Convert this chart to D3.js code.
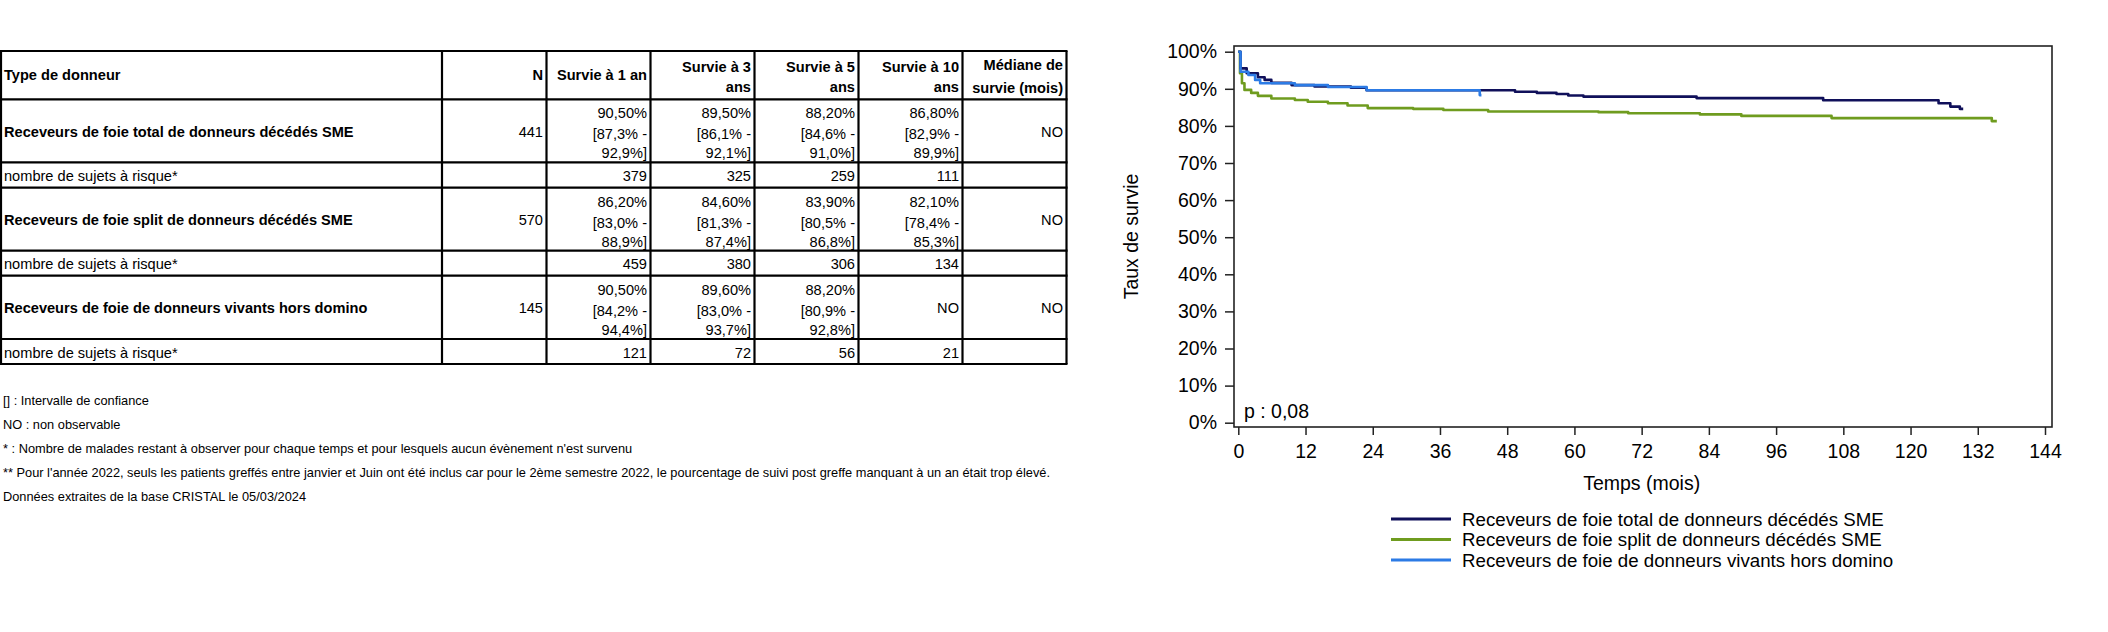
<!DOCTYPE html>
<html><head><meta charset="utf-8">
<script src="https://cdn.jsdelivr.net/npm/d3@7"></script>
<style>
body{margin:0;background:#fff}
svg{display:block}
text{font-family:"Liberation Sans",Arial,Helvetica,sans-serif;fill:#000}
</style>
</head><body>
<svg id="c" width="2108" height="632"></svg>
<script>
// ---------- DATA ----------
const groups = [
  "Receveurs de foie total de donneurs décédés SME",
  "Receveurs de foie split de donneurs décédés SME",
  "Receveurs de foie de donneurs vivants hors domino"
];
const nPatients = [441, 570, 145];
const headerFirst = "Type de donneur";
const headerN = "N";
const survHeaders = [["Survie à 1 an"], ["Survie à 3", "ans"], ["Survie à 5", "ans"], ["Survie à 10", "ans"]];
const medianHeader = ["Médiane de", "survie (mois)"];
const survEst = [["90,50%", "89,50%", "88,20%", "86,80%"], ["86,20%", "84,60%", "83,90%", "82,10%"], ["90,50%", "89,60%", "88,20%", null]];
const ciLow  = [["87,3%", "86,1%", "84,6%", "82,9%"], ["83,0%", "81,3%", "80,5%", "78,4%"], ["84,2%", "83,0%", "80,9%", null]];
const ciHigh = [["92,9%", "92,1%", "91,0%", "89,9%"], ["88,9%", "87,4%", "86,8%", "85,3%"], ["94,4%", "93,7%", "92,8%", null]];
const atRiskLabel = "nombre de sujets à risque*";
const atRisk = [[379, 325, 259, 111], [459, 380, 306, 134], [121, 72, 56, 21]];
const medianSurv = ["NO", "NO", "NO"];
const notObservable = "NO";
const footnotes = [
  "[] : Intervalle de confiance",
  "NO : non observable",
  "* : Nombre de malades restant à observer pour chaque temps et pour lesquels aucun évènement n'est survenu",
  "** Pour l'année 2022, seuls les patients greffés entre janvier et Juin ont été inclus car pour le 2ème semestre 2022, le pourcentage de suivi post greffe manquant à un an était trop élevé.",
  "Données extraites de la base CRISTAL le 05/03/2024"
];

// Kaplan-Meier curves: [months, survival %]
const kmTotal = [[0,100],[0.4,95.5],[1.5,94.2],[3.5,93.1],[4.7,92.4],[5.9,91.6],[9.5,91.0],[13.6,90.6],[20.1,90.3],[22.9,89.6],[49.4,89.2],[53.3,88.9],[56.8,88.6],[58.9,88.2],[61.6,87.9],[81.8,87.5],[104.4,86.9],[125.0,86.1],[127.1,85.2],[128.8,84.6],[129.4,84.6]];
const kmSplit = [[0,100],[0.3,94.2],[0.65,91.5],[1.1,89.7],[2.3,88.9],[3.5,88.1],[5.9,87.4],[10.1,87.0],[12.4,86.5],[16,86.1],[19.5,85.5],[23.1,84.8],[31.2,84.6],[36.6,84.3],[44.6,83.9],[64.3,83.7],[69.6,83.4],[82.4,83.1],[89.8,82.7],[105.9,82.1],[134.5,81.3],[135.4,81.3]];
const kmLiving = [[0,100],[0.4,94.6],[1.8,93.7],[3.0,92.4],[3.9,91.5],[10.1,91.0],[16,90.5],[22.9,89.6],[43.1,88.3],[43.4,88.3]];
const seriesNames = groups;
const seriesColors = ["#10105a", "#6f9c1f", "#2c7be5"];
const xTicks = [0,12,24,36,48,60,72,84,96,108,120,132,144];
const yTicks = [0,10,20,30,40,50,60,70,80,90,100];
const xTitle = "Temps (mois)";
const yTitle = "Taux de survie";
const pValue = "p : 0,08";

// ---------- TABLE ----------
const svg = d3.select("#c");
const T = svg.append("g");
const FS = 14.6;
const colX = [1, 442, 546.5, 650.5, 754.5, 858.5, 962.5, 1066.5];
const rowY = [51, 99.3, 162.3, 187.7, 250.7, 275.7, 339, 364];
const pad = 3.5;
const bl = c => c + FS * 0.35;

function txt(x, cy, s, opt = {}) {
  T.append("text").attr("x", x).attr("y", bl(cy)).text(s)
    .attr("text-anchor", opt.anchor || "start")
    .style("font-size", (opt.fs || FS) + "px")
    .style("font-weight", opt.bold ? "bold" : "normal");
}
txt(colX[0] + 3, 75, headerFirst, {bold: true});
txt(colX[2] - pad, 75, headerN, {bold: true, anchor: "end"});
survHeaders.forEach((h, i) => {
  const xr = colX[3 + i] - pad;
  if (h.length === 1) txt(xr, 75, h[0], {bold: true, anchor: "end"});
  else { txt(xr, 66.5, h[0], {bold: true, anchor: "end"}); txt(xr, 87, h[1], {bold: true, anchor: "end"}); }
});
txt(colX[7] - pad, 65, medianHeader[0], {bold: true, anchor: "end"});
txt(colX[7] - pad, 87.5, medianHeader[1], {bold: true, anchor: "end"});

groups.forEach((g, gi) => {
  const top = rowY[1 + gi * 2], bot = rowY[2 + gi * 2], bot2 = rowY[3 + gi * 2];
  const mid = (top + bot) / 2 + 1;
  txt(colX[0] + 3, mid, g, {bold: true});
  txt(colX[2] - pad, mid, nPatients[gi], {anchor: "end"});
  survEst[gi].forEach((v, k) => {
    const xr = colX[3 + k] - pad;
    if (v === null) { txt(xr, mid, notObservable, {anchor: "end"}); return; }
    txt(xr, top + 14, v, {anchor: "end"});
    txt(xr, top + 35, "[" + ciLow[gi][k] + " -", {anchor: "end"});
    txt(xr, top + 54, ciHigh[gi][k] + "]", {anchor: "end"});
  });
  txt(colX[7] - pad, mid, medianSurv[gi], {anchor: "end"});
  const m2 = (bot + bot2) / 2 + 1;
  txt(colX[0] + 3, m2, atRiskLabel);
  atRisk[gi].forEach((v, k) => txt(colX[3 + k] - pad, m2, v, {anchor: "end"}));
});
rowY.forEach(y => T.append("line").attr("x1", 0).attr("x2", colX[7] + 1).attr("y1", y).attr("y2", y).attr("stroke", "#000").attr("stroke-width", 2.2));
colX.forEach(x => T.append("line").attr("x1", x).attr("x2", x).attr("y1", rowY[0]).attr("y2", rowY[7]).attr("stroke", "#000").attr("stroke-width", 2.2));

const fnY = [400.5, 424, 448, 472, 496];
footnotes.forEach((f, i) => T.append("text").attr("x", 3).attr("y", fnY[i] + 4.5).text(f).style("font-size", "12.8px"));

// ---------- CHART ----------
const x = d3.scaleLinear().domain([0, 144]).range([1238.3, 2045]);
const y = d3.scaleLinear().domain([0, 100]).range([422.7, 51.7]);
const frame = {l: 1234, r: 2052, t: 46, b: 427};
const C = svg.append("g");

const line = d3.line().x(d => x(d[0])).y(d => y(d[1])).curve(d3.curveStepAfter);
const allSeries = [kmTotal, kmSplit, kmLiving];
[1, 0, 2].forEach(i => {
  C.append("path").attr("d", line(allSeries[i])).attr("fill", "none")
    .attr("stroke", seriesColors[i]).attr("stroke-width", 2.6).attr("stroke-linejoin", "round");
});

C.append("rect").attr("x", frame.l).attr("y", frame.t).attr("width", frame.r - frame.l).attr("height", frame.b - frame.t)
  .attr("fill", "none").attr("stroke", "#222").attr("stroke-width", 1.6);

const TF = 19.5;
const xAxis = d3.axisBottom(x).tickValues(xTicks).tickSize(8).tickPadding(9).tickFormat(d3.format("d"));
const gx = C.append("g").attr("transform", `translate(0,${frame.b})`).call(xAxis);
gx.select(".domain").remove();
gx.selectAll("line").attr("stroke", "#222").attr("stroke-width", 1.5);
gx.selectAll("text").style("font-size", TF + "px").style("font-family", '"Liberation Sans",Arial,sans-serif').attr("fill", "#000");

const yAxis = d3.axisLeft(y).tickValues(yTicks).tickSize(9).tickPadding(8).tickFormat(d => d + "%");
const gy = C.append("g").attr("transform", `translate(${frame.l},0)`).call(yAxis);
gy.select(".domain").remove();
gy.selectAll("line").attr("stroke", "#222").attr("stroke-width", 1.5);
gy.selectAll("text").style("font-size", TF + "px").style("font-family", '"Liberation Sans",Arial,sans-serif').attr("fill", "#000");

C.append("text").attr("transform", `translate(1138,${(frame.t + frame.b) / 2}) rotate(-90)`)
  .attr("text-anchor", "middle").style("font-size", TF + "px").text(yTitle);
C.append("text").attr("x", (x(0) + x(144)) / 2).attr("y", 490).attr("text-anchor", "middle")
  .style("font-size", TF + "px").text(xTitle);
C.append("text").attr("x", 1244).attr("y", 418).style("font-size", TF + "px").text(pValue);

const legY = [519, 539.5, 560];
seriesNames.forEach((n, i) => {
  C.append("line").attr("x1", 1391).attr("x2", 1451).attr("y1", legY[i]).attr("y2", legY[i])
    .attr("stroke", seriesColors[i]).attr("stroke-width", 2.8);
  C.append("text").attr("x", 1462).attr("y", legY[i] + 6.7).style("font-size", "18.7px").text(n);
});
</script>
</body></html>
